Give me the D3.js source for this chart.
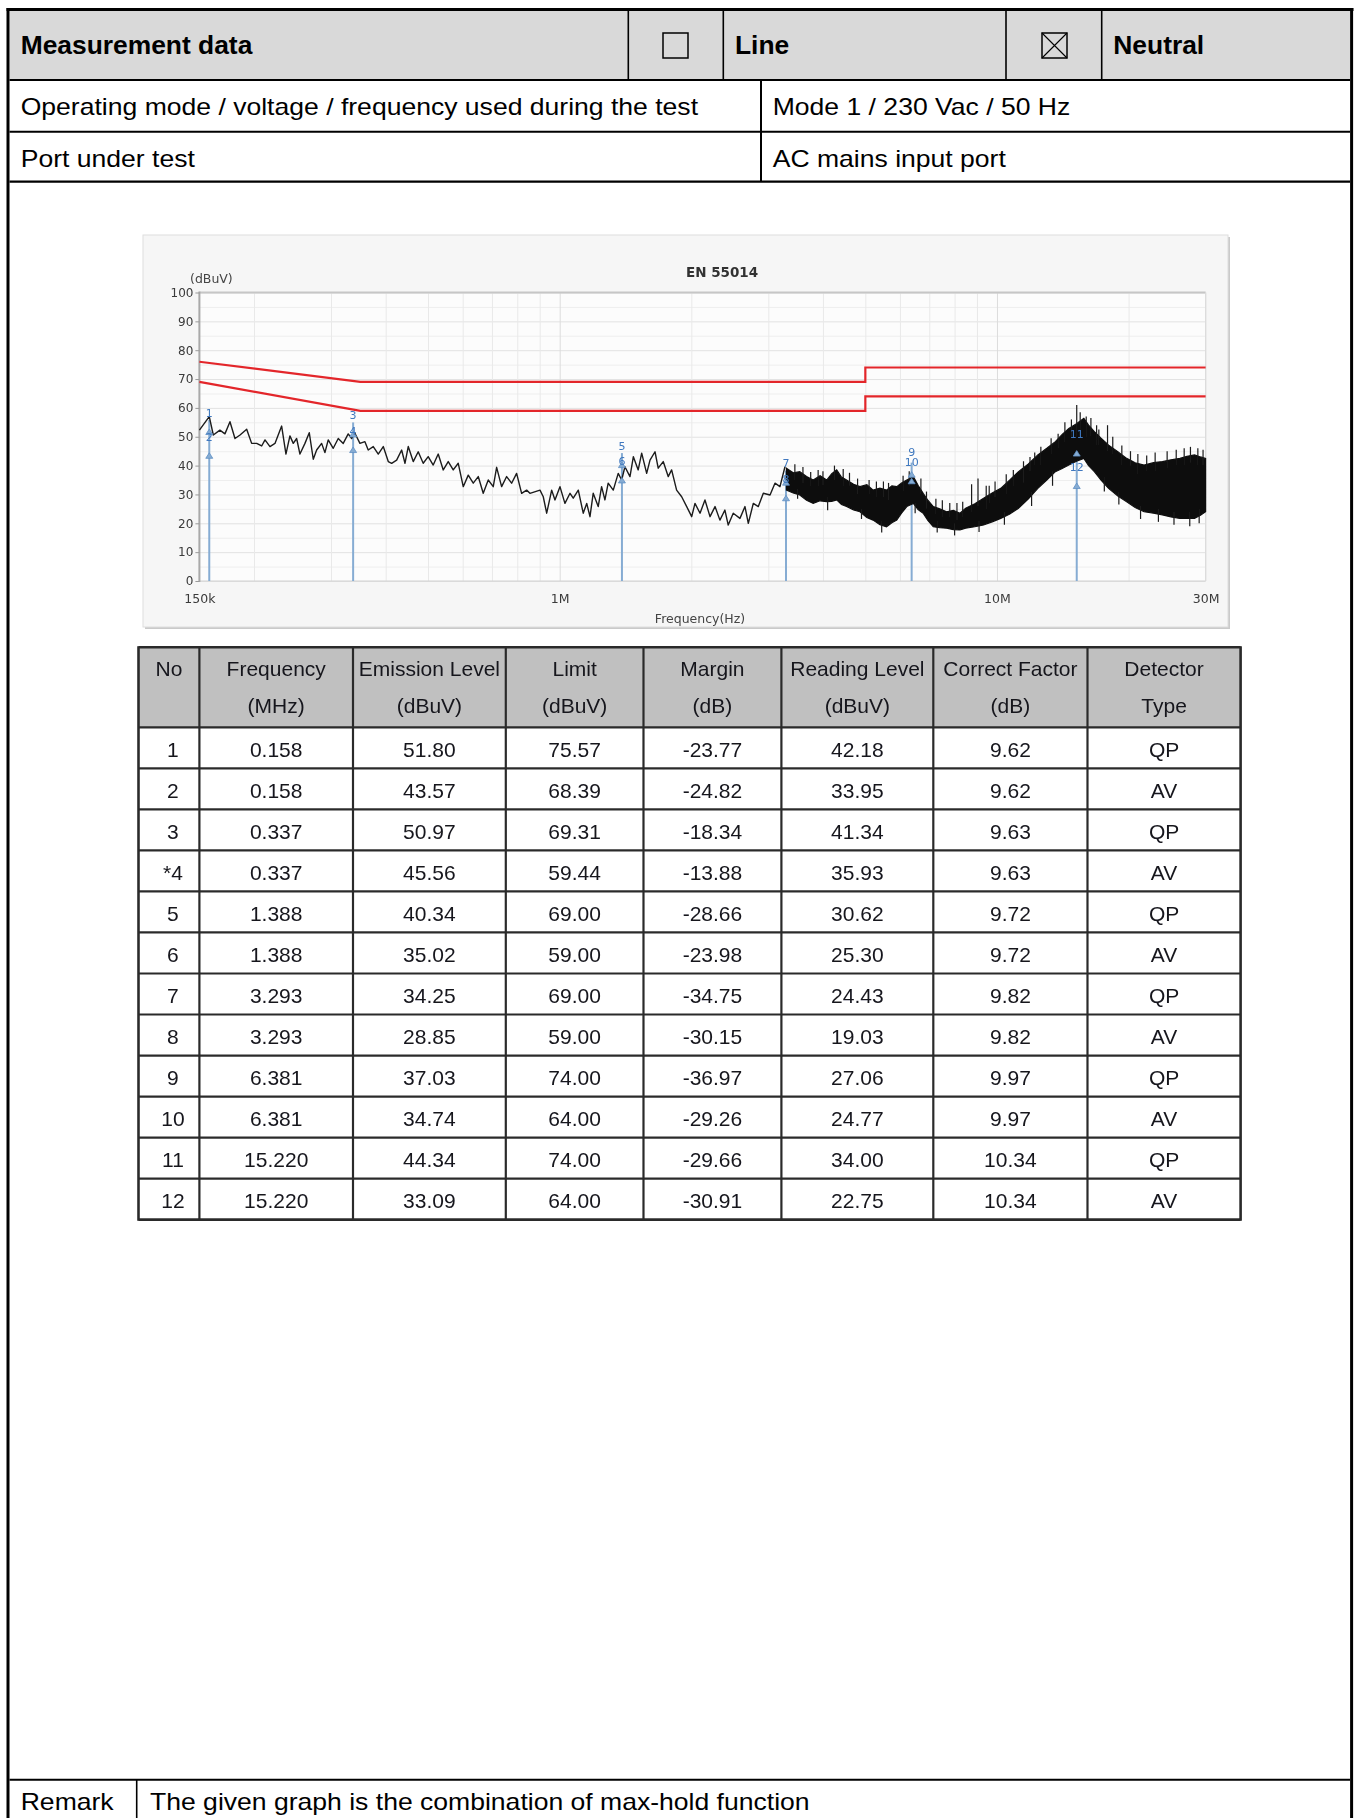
<!DOCTYPE html>
<html>
<head>
<meta charset="utf-8">
<script src="https://cdn.jsdelivr.net/npm/d3@7"></script>
<style>
  html, body { margin: 0; padding: 0; background: #fff; }
  svg { display: block; }
</style>
</head>
<body>
<script>
// ---------- Limit lines (EN 55014, mains port) ----------
const limitFreq = [0.15, 0.35, 5, 5, 30];          // MHz
const qpLimit   = [76, 69, 69, 74, 74];            // dBuV
const avLimit   = [69, 59, 59, 64, 64];            // dBuV

// ---------- Max-hold trace, 150 kHz - 3.3 MHz ----------
const lineFreq = [
  0.150,0.158,0.1614,0.1671,0.1716,0.1762,0.1809,0.1858,0.1924,0.1975,
  0.2028,0.2082,0.2119,0.2175,0.2233,0.2313,0.2366,0.2416,0.2459,0.2503,
  0.2547,0.2615,0.2675,0.2732,0.2781,0.2855,0.2905,0.2956,0.3035,0.3116,
  0.3199,0.3284,0.3344,0.3402,0.3493,0.3586,0.3649,0.3747,0.3847,0.3950,
  0.4055,0.4128,0.4238,0.4351,0.4428,0.4505,0.4625,0.4748,0.4874,0.5004,
  0.5138,0.5275,0.5417,0.5561,0.5709,0.5862,0.6018,0.6179,0.6344,0.6513,
  0.6686,0.6865,0.7048,0.7175,0.7366,0.7563,0.7764,0.7971,0.8184,0.8403,
  0.8550,0.9015,0.9172,0.9338,0.9587,0.9755,1.0015,1.028,1.056,1.074,
  1.103,1.132,1.153,1.173,1.193,1.225,1.247,1.269,1.291,1.326,
  1.361,1.386,1.410,1.448,1.474,1.512,1.540,1.581,1.609,1.652,
  1.680,1.725,1.771,1.803,1.851,1.901,1.952,2.004,2.039,2.094,
  2.149,2.207,2.266,2.325,2.387,2.429,2.494,2.584,2.653,2.700,
  2.772,2.846,2.922,3.027,3.107,3.190,3.275
];
const lineLevel = [
  52.3,57.0,50.6,52.3,51.0,55.2,49.4,50.6,52.6,47.7,
  47.7,46.8,48.9,46.6,47.7,53.7,44.0,50.3,47.7,49.4,
  44.0,47.7,51.4,42.2,45.4,47.7,44.5,48.9,46.0,49.4,
  47.7,51.0,49.4,51.2,47.7,48.3,45.4,46.6,44.0,46.6,
  41.4,40.8,41.9,45.4,40.8,46.6,41.4,44.8,40.8,43.1,
  40.2,44.0,38.5,41.4,38.5,40.8,32.7,36.7,33.9,36.2,
  30.4,35.0,32.7,39.4,32.7,36.2,33.9,37.3,30.4,31.5,
  30.4,31.5,29.2,23.5,31.5,28.1,32.7,26.9,30.4,28.7,
  31.5,23.5,26.9,22.3,30.4,25.8,32.7,28.1,33.9,31.5,
  37.3,35.0,39.6,36.2,43.1,38.5,44.3,37.3,41.9,44.8,
  39.1,41.4,36.2,38.5,31.5,29.2,25.8,22.3,26.9,23.5,
  28.1,22.3,25.8,21.1,24.6,19.4,23.5,21.7,25.8,20.0,
  26.9,25.8,30.4,29.8,33.9,32.7,39.6
];

// ---------- Max-hold band, 3.3 MHz - 30 MHz (upper / lower envelope) ----------
const bandFreq = [
  3.30,3.42,3.54,3.67,3.80,3.94,4.08,4.19,4.30,4.41,
  4.53,4.70,4.86,5.04,5.21,5.40,5.59,5.75,5.90,6.05,
  6.22,6.44,6.60,6.78,6.95,7.15,7.40,7.67,7.95,8.23,
  8.48,8.90,9.32,9.75,10.2,10.7,11.2,11.8,12.4,13.0,
  13.6,14.1,14.6,15.2,15.8,16.2,16.7,17.3,18.0,18.9,
  19.8,20.7,21.7,22.8,23.9,25.0,26.2,27.2,28.3,29.2,
  30.0
];
const bandHigh = [
  39.1,37.5,37.9,36.2,35.0,36.5,35.0,37.2,38.5,36.0,
  35.0,33.5,32.7,33.4,31.5,32.2,31.5,33.0,32.7,34.0,
  35.0,36.2,33.2,30.4,28.0,25.8,25.0,24.0,24.5,23.5,
  25.2,26.8,28.7,30.5,32.1,35.0,37.9,40.6,43.7,46.0,
  48.3,50.8,52.9,54.5,56.4,54.0,51.8,49.5,47.1,44.8,
  42.5,41.0,40.2,41.0,41.4,42.0,42.5,43.2,43.7,43.0,
  42.5
];
const bandLow = [
  31.5,30.5,29.8,28.0,26.9,27.8,27.5,27.6,28.1,26.5,
  25.8,24.6,24.0,22.0,21.1,19.5,18.8,20.2,21.1,23.5,
  25.8,26.9,24.8,23.5,21.0,18.8,18.5,18.3,17.8,17.7,
  18.3,18.8,19.4,20.5,21.7,23.2,25.2,28.5,32.1,35.0,
  37.9,39.0,40.2,41.5,42.5,40.0,37.9,35.0,32.1,29.5,
  27.5,25.5,24.0,23.5,22.9,22.2,21.7,21.7,21.7,22.8,
  24.0
];

// ---------- Peaks sticking out above the band ----------
const spikeFreq = [
  3.45,3.6,3.75,3.9,4.0,4.25,4.45,4.6,4.8,5.1,
  5.3,5.5,5.65,6.1,6.3,6.7,6.9,7.25,7.5,7.8,
  8.1,8.35,8.75,9.05,9.45,9.6,9.9,10.5,10.9,11.5,
  11.9,12.2,12.6,13.3,13.8,14.3,14.8,15.22,15.5,16.0,
  16.4,16.9,17.1,17.9,18.4,19.3,20.2,21.0,22.0,23.0,
  24.5,25.7,26.8,27.7,28.8,29.6
];
const spikeHigh = [
  40.5,39.5,37.8,38.5,38.0,40.0,38.8,37.5,35.5,35.0,
  34.5,34.5,34.0,36.5,38.0,35.5,31.0,28.5,28.0,27.0,
  27.0,27.5,33.5,35.5,33.0,33.0,34.5,37.0,38.5,41.5,
  43.0,44.5,46.5,49.5,51.0,55.0,56.0,61.0,58.5,57.0,
  56.5,54.0,52.5,54.0,50.0,47.0,45.0,44.0,43.5,44.5,
  45.0,45.5,46.0,46.5,46.0,45.5
];
const spikeLow = [
  35,34,33,33,33,35,33,33,30,30,
  29,29,28,31,33,30,25,23,22,22,
  21,22,24,26,25,27,29,30,33,34,
  38,40,40,44,46,48,50,50,50,50,
  50,47,47,45,44,40,40,37,38,38,
  39,40,40,41,40,40
];

// ---------- Troughs reaching below the band ----------
const dipFreq = [3.5,4.1,4.9,5.45,6.5,7.3,8.0,9.1,10.4,12.0,13.4,17.6,19.0,21.3,23.4,25.4,27.6,29.0];
const dipHigh = [32,29,25,21,27,21,20,21,24,31,38,36,31,26,25,24,24,25];
const dipLow  = [28.5,24.5,21.5,16.8,23.5,16.8,15.8,17.0,19.5,26.0,33.0,31.0,26.5,21.5,20.5,19.5,19.0,20.0];

// ---------- Final measurement results ----------
const resultNo       = ["1","2","3","*4","5","6","7","8","9","10","11","12"];
const resultFreq     = [0.158,0.158,0.337,0.337,1.388,1.388,3.293,3.293,6.381,6.381,15.220,15.220];
const resultLevel    = [51.80,43.57,50.97,45.56,40.34,35.02,34.25,28.85,37.03,34.74,44.34,33.09];
const resultLimit    = [75.57,68.39,69.31,59.44,69.00,59.00,69.00,59.00,74.00,64.00,74.00,64.00];
const resultMargin   = [-23.77,-24.82,-18.34,-13.88,-28.66,-23.98,-34.75,-30.15,-36.97,-29.26,-29.66,-30.91];
const resultReading  = [42.18,33.95,41.34,35.93,30.62,25.30,24.43,19.03,27.06,24.77,34.00,22.75];
const resultFactor   = [9.62,9.62,9.63,9.63,9.72,9.72,9.82,9.82,9.97,9.97,10.34,10.34];
const resultDetector = ["QP","AV","QP","AV","QP","AV","QP","AV","QP","AV","QP","AV"];

// ---------- Axis ticks ----------
const yTicks = [0,10,20,30,40,50,60,70,80,90,100];
const yMinorTicks = [5,15,25,35,45,55,65,75,85,95];
const xTickValues = [0.15, 1, 10, 30];
const xTickLabels = ["150k", "1M", "10M", "30M"];

const tableHeader = [
  ["No", ""], ["Frequency", "(MHz)"], ["Emission Level", "(dBuV)"], ["Limit", "(dBuV)"],
  ["Margin", "(dB)"], ["Reading Level", "(dBuV)"], ["Correct Factor", "(dB)"], ["Detector", "Type"]
];

// =====================================================================
const W = 1360, H = 1818;
const SANS = '"Liberation Sans", Arial, Helvetica, sans-serif';
const CHART_FONT = '"DejaVu Sans", Verdana, sans-serif';

const svg = d3.select("body").append("svg")
  .attr("width", W).attr("height", H)
  .attr("viewBox", `0 0 ${W} ${H}`);

const defs = svg.append("defs");
defs.append("filter").attr("id", "softChart")
  .attr("x", "-2%").attr("y", "-2%").attr("width", "104%").attr("height", "104%")
  .append("feGaussianBlur").attr("stdDeviation", 0.7);
defs.append("filter").attr("id", "softTable")
  .attr("x", "-2%").attr("y", "-2%").attr("width", "104%").attr("height", "104%")
  .append("feGaussianBlur").attr("stdDeviation", 0.45);

svg.append("rect").attr("width", W).attr("height", H).attr("fill", "#fff");

function text(parent, x, y, s, o = {}) {
  return parent.append("text")
    .attr("transform", `translate(${x},${y}) scale(${o.sx || 1},1)`)
    .attr("font-family", o.family || SANS)
    .attr("font-size", o.size || 23)
    .attr("font-weight", o.weight || "normal")
    .attr("text-anchor", o.anchor || "start")
    .attr("fill", o.fill || "#000")
    .text(s);
}
function hline(parent, x1, x2, yy, w, c = "#000") {
  parent.append("line").attr("x1", x1).attr("x2", x2).attr("y1", yy).attr("y2", yy)
    .attr("stroke", c).attr("stroke-width", w);
}
function vline(parent, xx, y1, y2, w, c = "#000") {
  parent.append("line").attr("x1", xx).attr("x2", xx).attr("y1", y1).attr("y2", y2)
    .attr("stroke", c).attr("stroke-width", w);
}

// ---------- Report form ----------
const form = svg.append("g");
form.append("rect").attr("x", 9.5).attr("y", 11).attr("width", 1340.5).attr("height", 68.5).attr("fill", "#d9d9d9");
hline(form, 6.5, 1353.5, 9.6, 3);
vline(form, 8, 8, H, 3);
vline(form, 1351.6, 8, H, 3);
hline(form, 9.5, 1350, 80, 2);
hline(form, 9.5, 1350, 131.7, 2);
hline(form, 9.5, 1350, 181.7, 2.2);
[628.3, 723.3, 1006, 1101.7].forEach(xx => vline(form, xx, 11, 80, 1.6));
vline(form, 761, 80, 181.7, 2);
hline(form, 9.5, 1350, 1779.7, 2);
vline(form, 136.7, 1779.7, H, 1.6);

// check boxes
form.append("rect").attr("x", 663).attr("y", 33).attr("width", 25).attr("height", 25)
  .attr("fill", "none").attr("stroke", "#000").attr("stroke-width", 1.5);
form.append("rect").attr("x", 1042).attr("y", 33).attr("width", 25).attr("height", 25)
  .attr("fill", "none").attr("stroke", "#000").attr("stroke-width", 1.5);
form.append("path").attr("d", "M1042,33L1067,58M1067,33L1042,58")
  .attr("stroke", "#000").attr("stroke-width", 1.1);

const BOLD = { size: 25, weight: "bold", sx: 1.056 };
const REG = { size: 23, sx: 1.155 };
text(form, 20.7, 54, "Measurement data", BOLD);
text(form, 735, 54, "Line", BOLD);
text(form, 1113.3, 54, "Neutral", BOLD);
text(form, 20.7, 115, "Operating mode / voltage / frequency used during the test", REG);
text(form, 772.7, 115, "Mode 1 / 230 Vac / 50 Hz", REG);
text(form, 20.7, 166.7, "Port under test", REG);
text(form, 772.7, 166.7, "AC mains input port", REG);
text(form, 20.7, 1809.7, "Remark", REG);
text(form, 150, 1809.7, "The given graph is the combination of max-hold function", REG);

// ---------- Spectrum chart ----------
const chart = svg.append("g").attr("filter", "url(#softChart)");
const box = { x: 143, y: 235, w: 1085, h: 392 };
chart.append("rect").attr("x", box.x + 2).attr("y", box.y + 2).attr("width", box.w).attr("height", box.h).attr("fill", "#cacaca");
chart.append("rect").attr("x", box.x).attr("y", box.y).attr("width", box.w).attr("height", box.h)
  .attr("fill", "#f6f6f6").attr("stroke", "#dedede").attr("stroke-width", 1);

const x = d3.scaleLog().domain([0.15, 30]).range([199.4, 1205.6]);
const y = d3.scaleLinear().domain([0, 100]).range([581, 292.5]);
const [px0, px1] = x.range();
const [py0, py1] = y.range();

chart.append("rect").attr("x", px0).attr("y", py1).attr("width", px1 - px0).attr("height", py0 - py1).attr("fill", "#fcfcfc");

// grid
chart.append("g").attr("transform", `translate(${px0},0)`)
  .call(d3.axisLeft(y).tickValues(yMinorTicks).tickSize(-(px1 - px0)).tickFormat(""))
  .call(g => g.select(".domain").remove())
  .call(g => g.selectAll("line").attr("stroke", "#eeeeee"));
chart.append("g").attr("transform", `translate(${px0},0)`)
  .call(d3.axisLeft(y).tickValues(yTicks).tickSize(-(px1 - px0)).tickFormat(""))
  .call(g => g.select(".domain").remove())
  .call(g => g.selectAll("line").attr("stroke", "#e2e2e2"));
chart.append("g").attr("transform", `translate(0,${py0})`)
  .call(d3.axisBottom(x).tickValues(x.ticks()).tickSize(-(py0 - py1)).tickFormat(""))
  .call(g => g.select(".domain").remove())
  .call(g => g.selectAll("line").attr("stroke", d => (d === 1 || d === 10) ? "#dcdcdc" : "#e9e9e9"));

// frame
hline(chart, px0, px1, py1, 2, "#c6c6c6");
hline(chart, px0, px1, py0, 1, "#d2d2d2");
vline(chart, px1, py1, py0, 1, "#dadada");
vline(chart, px0, py1 - 1, py0 + 1, 2, "#a9a9a9");

// y axis labels
chart.append("g").attr("transform", `translate(${px0},0)`)
  .call(d3.axisLeft(y).tickValues(yTicks).tickSize(4).tickPadding(2).tickFormat(d3.format("d")))
  .call(g => g.select(".domain").remove())
  .call(g => g.selectAll("line").attr("stroke", "#9a9a9a"))
  .call(g => g.selectAll("text").attr("font-family", CHART_FONT).attr("font-size", 12).attr("fill", "#3a3a3a"));

// x axis labels
chart.append("g").attr("transform", `translate(0,${py0})`)
  .call(d3.axisBottom(x).tickValues(xTickValues).tickSize(0).tickPadding(13.5)
    .tickFormat((d, i) => xTickLabels[i]))
  .call(g => g.select(".domain").remove())
  .call(g => g.selectAll("text").attr("font-family", CHART_FONT).attr("font-size", 12.5).attr("fill", "#3a3a3a"));

text(chart, 722, 277, "EN 55014", { family: CHART_FONT, size: 13.5, weight: "bold", anchor: "middle", fill: "#333" });
text(chart, 190, 283, "(dBuV)", { family: CHART_FONT, size: 12.5, fill: "#444" });
text(chart, 700, 623, "Frequency(Hz)", { family: CHART_FONT, size: 12.5, anchor: "middle", fill: "#444" });

// limit lines
const limitLine = vals => d3.line().x((d, i) => x(limitFreq[i])).y((d, i) => y(vals[i]))(limitFreq);
chart.append("path").attr("d", limitLine(qpLimit)).attr("fill", "none").attr("stroke", "#e3262b").attr("stroke-width", 2.2);
chart.append("path").attr("d", limitLine(avLimit)).attr("fill", "none").attr("stroke", "#e3262b").attr("stroke-width", 2.2);

// marker stems (under the trace)
const MARK_BLUE = "#86acd3";
const markerIdx = d3.range(resultFreq.length);
const qpIdx = markerIdx.filter(i => resultDetector[i] === "QP");
chart.append("g").selectAll("line").data(qpIdx).join("line")
  .attr("x1", i => x(resultFreq[i])).attr("x2", i => x(resultFreq[i]))
  .attr("y1", y(0)).attr("y2", i => y(resultLevel[i] + 4))
  .attr("stroke", MARK_BLUE).attr("stroke-width", 2);

// trace: dense band, peaks and troughs, then the low-frequency line
chart.append("path")
  .attr("d", d3.area().x((d, i) => x(bandFreq[i])).y0((d, i) => y(bandLow[i])).y1((d, i) => y(bandHigh[i]))(bandFreq))
  .attr("fill", "#0a0a0a").attr("stroke", "#111").attr("stroke-width", 1.2);
chart.append("g").selectAll("line").data(spikeFreq).join("line")
  .attr("x1", d => x(d)).attr("x2", d => x(d))
  .attr("y1", (d, i) => y(spikeLow[i])).attr("y2", (d, i) => y(spikeHigh[i]))
  .attr("stroke", "#1a1a1a").attr("stroke-width", 1.2);
chart.append("g").selectAll("line").data(dipFreq).join("line")
  .attr("x1", d => x(d)).attr("x2", d => x(d))
  .attr("y1", (d, i) => y(dipLow[i])).attr("y2", (d, i) => y(dipHigh[i]))
  .attr("stroke", "#1a1a1a").attr("stroke-width", 1.2);
chart.append("path")
  .attr("d", d3.line().x((d, i) => x(lineFreq[i])).y((d, i) => y(lineLevel[i]))(lineFreq))
  .attr("fill", "none").attr("stroke", "#1c1c1c").attr("stroke-width", 1.4).attr("stroke-linejoin", "round");

// marker flags
chart.append("g").selectAll("path").data(markerIdx).join("path")
  .attr("d", i => {
    const cx = x(resultFreq[i]), cy = y(resultLevel[i]);
    return `M${cx - 3.5},${cy + 3}L${cx},${cy - 2.5}L${cx + 3.5},${cy + 3}Z`;
  })
  .attr("fill", MARK_BLUE).attr("stroke", "#5f8fc4").attr("stroke-width", 0.8);

// marker numbers: QP number sits above its AV partner, kept clear of it
const labelY = markerIdx.map(i => y(resultLevel[i] + 6.5));
markerIdx.forEach(i => {
  if (resultDetector[i] === "QP" && resultFreq[i + 1] === resultFreq[i]) {
    labelY[i] = Math.min(labelY[i], labelY[i + 1] - 10);
  }
});
chart.append("g").selectAll("text").data(markerIdx).join("text")
  .attr("x", i => x(resultFreq[i]))
  .attr("y", i => labelY[i] + 4)
  .attr("text-anchor", "middle")
  .attr("font-family", CHART_FONT).attr("font-size", 11)
  .attr("fill", "#3f78bf")
  .text(i => resultNo[i].replace("*", ""));

// ---------- Result table ----------
const table = svg.append("g").attr("filter", "url(#softTable)");
const colEdges = [138.5, 199.4, 353, 505.8, 643.5, 781.4, 933.3, 1087.5, 1240.6];
const tTop = 647.3, headH = 80, rowH = 41.03;
const tBottom = tTop + headH + rowH * resultNo.length;
const colMid = d3.range(8).map(c => (colEdges[c] + colEdges[c + 1]) / 2);
const TABLE_TEXT = "#15151c";

table.append("rect").attr("x", colEdges[0]).attr("y", tTop)
  .attr("width", colEdges[8] - colEdges[0]).attr("height", headH).attr("fill", "#c0c0c0");

tableHeader.forEach((lines, c) => {
  text(table, colMid[c], tTop + 29, lines[0], { size: 21, anchor: "middle", fill: TABLE_TEXT });
  if (lines[1]) text(table, colMid[c], tTop + 66, lines[1], { size: 21, anchor: "middle", fill: TABLE_TEXT });
});

resultNo.forEach((no, r) => {
  const base = tTop + headH + r * rowH + 29.5;
  const cells = [
    no, resultFreq[r].toFixed(3), resultLevel[r].toFixed(2), resultLimit[r].toFixed(2),
    resultMargin[r].toFixed(2), resultReading[r].toFixed(2), resultFactor[r].toFixed(2), resultDetector[r]
  ];
  cells.forEach((s, c) => {
    const cx = c === 0 ? colMid[0] + 4 : colMid[c];
    text(table, cx, base, s, { size: 21, anchor: "middle", fill: TABLE_TEXT });
  });
});

colEdges.forEach((cx, c) => vline(table, cx, tTop - 1, tBottom + 1, (c === 0 || c === 8) ? 2.6 : 2.2, "#2b2b2b"));
hline(table, colEdges[0], colEdges[8], tTop, 2.6, "#2b2b2b");
hline(table, colEdges[0], colEdges[8], tTop + headH, 2.2, "#2b2b2b");
resultNo.forEach((d, r) => hline(table, colEdges[0], colEdges[8], tTop + headH + (r + 1) * rowH,
  r === resultNo.length - 1 ? 2.6 : 2.2, "#2b2b2b"));
</script>
</body>
</html>
